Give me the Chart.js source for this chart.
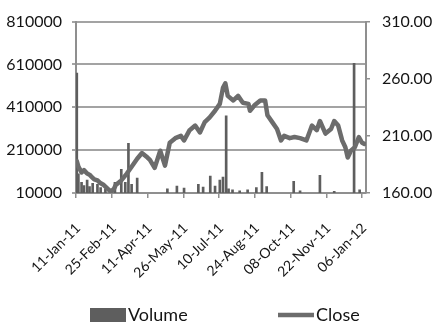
<!DOCTYPE html>
<html>
<head>
<meta charset="utf-8">
<title>Volume and Close</title>
<script src="https://cdn.jsdelivr.net/npm/chart.js@4.4.1/dist/chart.umd.min.js"></script>
<style>
  html, body { margin: 0; padding: 0; background: #ffffff; }
  #wrap { width: 433px; height: 324px; }
</style>
</head>
<body>
<div id="wrap"><canvas id="chart" width="433" height="324"></canvas></div>
<script>
// Date axis tick labels (every 45 days)
const xTickLabels = ['11-Jan-11', '25-Feb-11', '11-Apr-11', '26-May-11', '10-Jul-11',
                     '24-Aug-11', '08-Oct-11', '22-Nov-11', '06-Jan-12'];
const axisEndDate = '2012-01-11';

// Value axis ticks
const volumeTicks = [10000, 210000, 410000, 610000, 810000];
const closeTicks = [160, 210, 260, 310];

// Closing price
const closeDates = [
  '2011-01-12', '2011-01-14', '2011-01-18', '2011-01-21', '2011-01-25', '2011-01-28',
  '2011-01-31', '2011-02-03', '2011-02-07', '2011-02-10', '2011-02-15', '2011-02-18',
  '2011-02-24', '2011-02-28', '2011-03-02', '2011-03-09', '2011-03-16', '2011-03-22',
  '2011-03-29', '2011-04-04', '2011-04-11', '2011-04-14', '2011-04-20', '2011-04-27',
  '2011-05-03', '2011-05-09', '2011-05-16', '2011-05-23', '2011-05-27', '2011-06-03',
  '2011-06-10', '2011-06-16', '2011-06-22', '2011-06-28', '2011-07-05', '2011-07-11',
  '2011-07-15', '2011-07-18', '2011-07-21', '2011-07-28', '2011-08-03', '2011-08-09',
  '2011-08-16', '2011-08-18', '2011-08-24', '2011-08-31', '2011-09-06', '2011-09-09',
  '2011-09-15', '2011-09-21', '2011-09-26', '2011-09-30', '2011-10-07', '2011-10-13',
  '2011-10-20', '2011-10-28', '2011-11-04', '2011-11-10', '2011-11-14', '2011-11-21',
  '2011-11-28', '2011-12-02', '2011-12-07', '2011-12-12', '2011-12-16', '2011-12-19',
  '2011-12-23', '2011-12-28', '2012-01-02', '2012-01-06', '2012-01-09'
];
const closeValues = [
  188, 183, 178, 180, 177, 176,
  174, 172, 171, 169, 167, 165,
  161, 164, 167, 171, 177, 183,
  190, 195, 191, 189, 182, 197,
  184, 204, 208, 210, 206, 215,
  219, 213, 222, 226, 232, 238,
  252, 256, 245, 241, 245, 239,
  238, 232, 237, 241, 241, 228,
  222, 216, 206, 210, 208, 209,
  208, 206, 219, 215, 223, 212,
  216, 223, 219, 206, 200, 191,
  197, 200, 209, 204, 203
];

// Traded volume
const volumeDates = [
  '2011-01-12', '2011-01-14', '2011-01-18', '2011-01-21', '2011-01-25', '2011-01-28',
  '2011-02-01', '2011-02-07', '2011-02-11', '2011-02-17', '2011-02-24', '2011-03-01',
  '2011-03-09', '2011-03-14', '2011-03-18', '2011-03-22', '2011-03-29', '2011-05-06',
  '2011-05-18', '2011-05-27', '2011-06-14', '2011-06-20', '2011-06-29', '2011-07-05',
  '2011-07-11', '2011-07-15', '2011-07-19', '2011-07-22', '2011-07-27', '2011-08-05',
  '2011-08-15', '2011-08-26', '2011-09-02', '2011-09-08', '2011-10-12', '2011-10-20',
  '2011-11-14', '2011-12-02', '2011-12-27', '2012-01-03'
];
const volumeValues = [
  570000, 100000, 60000, 45000, 70000, 40000,
  55000, 50000, 35000, 30000, 25000, 60000,
  120000, 60000, 242000, 50000, 80000, 30000,
  42000, 33000, 51000, 38000, 89000, 42000,
  70000, 84000, 370000, 30000, 25000, 20000,
  25000, 35000, 107000, 40000, 65000, 20000,
  93000, 18000, 615000, 25000
];

const MONTHS = ['Jan', 'Feb', 'Mar', 'Apr', 'May', 'Jun', 'Jul', 'Aug', 'Sep', 'Oct', 'Nov', 'Dec'];
const DAY_MS = 86400000;

function parseLabel(s) {            // 'DD-Mon-YY'
  const [d, m, y] = s.split('-');
  return Date.UTC(2000 + Number(y), MONTHS.indexOf(m), Number(d));
}
function parseIso(s) {              // 'YYYY-MM-DD'
  const [y, m, d] = s.split('-').map(Number);
  return Date.UTC(y, m - 1, d);
}

const origin = parseLabel(xTickLabels[0]);
const dayOf = t => Math.round((t - origin) / DAY_MS);
const tickDays = xTickLabels.map(l => dayOf(parseLabel(l)));
const labelByDay = new Map(tickDays.map((d, i) => [d, xTickLabels[i]]));

const closePoints = closeDates.map((d, i) => ({ x: dayOf(parseIso(d)), y: closeValues[i] }));
const volumePoints = volumeDates.map((d, i) => ({ x: dayOf(parseIso(d)), y: volumeValues[i] }));

const AXIS_GREY = '#8f8f8f';
const GRID_GREY = '#a3a3a3';
const TEXT = '#141414';
const FONT = 'Lato';

// Legend row under the axis labels: a filled swatch for the bars, a stroke for the line
const legendRow = {
  id: 'legendRow',
  afterDraw(chart, args, opts) {
    const ctx = chart.ctx;
    const ds = chart.data.datasets;
    ctx.save();
    ctx.font = `${opts.fontSize}px ${FONT}`;
    ctx.textBaseline = 'middle';
    ctx.textAlign = 'left';
    opts.items.forEach(item => {
      const d = ds[item.dataset];
      if (item.kind === 'box') {
        ctx.fillStyle = d.backgroundColor;
        ctx.fillRect(item.x, opts.y - opts.boxHeight / 2, opts.swatchWidth, opts.boxHeight);
      } else {
        ctx.strokeStyle = d.borderColor;
        ctx.lineWidth = d.borderWidth;
        ctx.lineCap = 'butt';
        ctx.beginPath();
        ctx.moveTo(item.x, opts.y);
        ctx.lineTo(item.x + opts.swatchWidth, opts.y);
        ctx.stroke();
      }
      ctx.fillStyle = TEXT;
      ctx.fillText(d.label, item.x + opts.swatchWidth + opts.gap, opts.y);
    });
    ctx.restore();
  }
};

new Chart(document.getElementById('chart'), {
  type: 'bar',
  plugins: [legendRow],
  data: {
    datasets: [
      {
        type: 'bar',
        label: 'Volume',
        data: volumePoints,
        yAxisID: 'yVol',
        xAxisID: 'x',
        backgroundColor: '#5e5e5e',
        borderWidth: 0,
        barThickness: 2,
        order: 1
      },
      {
        type: 'line',
        label: 'Close',
        data: closePoints,
        yAxisID: 'yClose',
        xAxisID: 'x',
        borderColor: '#6c6c6c',
        backgroundColor: '#6c6c6c',
        borderWidth: 4.5,
        borderJoinStyle: 'round',
        borderCapStyle: 'round',
        pointRadius: 0,
        pointHoverRadius: 0,
        tension: 0,
        fill: false,
        order: 0
      }
    ]
  },
  options: {
    responsive: false,
    animation: false,
    devicePixelRatio: 1,
    layout: { padding: { top: 20, left: 0, right: 0, bottom: 30 } },
    plugins: {
      tooltip: { enabled: false },
      legend: { display: false },
      legendRow: {
        y: 315,
        fontSize: 18,
        boxHeight: 14,
        swatchWidth: 36,
        gap: 2,
        items: [
          { dataset: 0, kind: 'box', x: 90 },
          { dataset: 1, kind: 'line', x: 278 }
        ]
      }
    },
    scales: {
      x: {
        type: 'linear',
        position: 'bottom',
        min: 0,
        max: dayOf(parseIso(axisEndDate)),
        offset: false,
        afterBuildTicks: s => { s.ticks = tickDays.map(v => ({ value: v })); },
        afterFit: s => { s.height = 101; },
        ticks: {
          autoSkip: false,
          minRotation: 45,
          maxRotation: 45,
          padding: 22,
          labelOffset: 2,
          color: TEXT,
          font: { family: FONT, size: 14 },
          callback: v => labelByDay.get(v) ?? ''
        },
        grid: {
          offset: false,
          drawOnChartArea: false,
          drawTicks: true,
          tickLength: 5,
          color: AXIS_GREY,
          lineWidth: 1.5
        },
        border: { display: true, color: AXIS_GREY, width: 2 }
      },
      yVol: {
        type: 'linear',
        position: 'left',
        min: 10000,
        max: 810000,
        afterBuildTicks: s => { s.ticks = volumeTicks.map(v => ({ value: v })); },
        afterFit: s => { s.width = 76; },
        ticks: {
          padding: 10,
          color: TEXT,
          font: { family: FONT, size: 16 },
          callback: v => String(v)
        },
        grid: {
          color: GRID_GREY,
          lineWidth: 2,
          drawTicks: true,
          tickLength: 4
        },
        border: { display: true, color: AXIS_GREY, width: 2 }
      },
      yClose: {
        type: 'linear',
        position: 'right',
        min: 160,
        max: 310,
        afterBuildTicks: s => { s.ticks = closeTicks.map(v => ({ value: v })); },
        afterFit: s => { s.width = 67; },
        ticks: {
          padding: 12,
          color: TEXT,
          font: { family: FONT, size: 16 },
          callback: v => Number(v).toFixed(2)
        },
        grid: {
          drawOnChartArea: false,
          drawTicks: true,
          tickLength: 4,
          color: AXIS_GREY,
          lineWidth: 1.5
        },
        border: { display: true, color: AXIS_GREY, width: 2 }
      }
    }
  }
});
</script>
</body>
</html>
